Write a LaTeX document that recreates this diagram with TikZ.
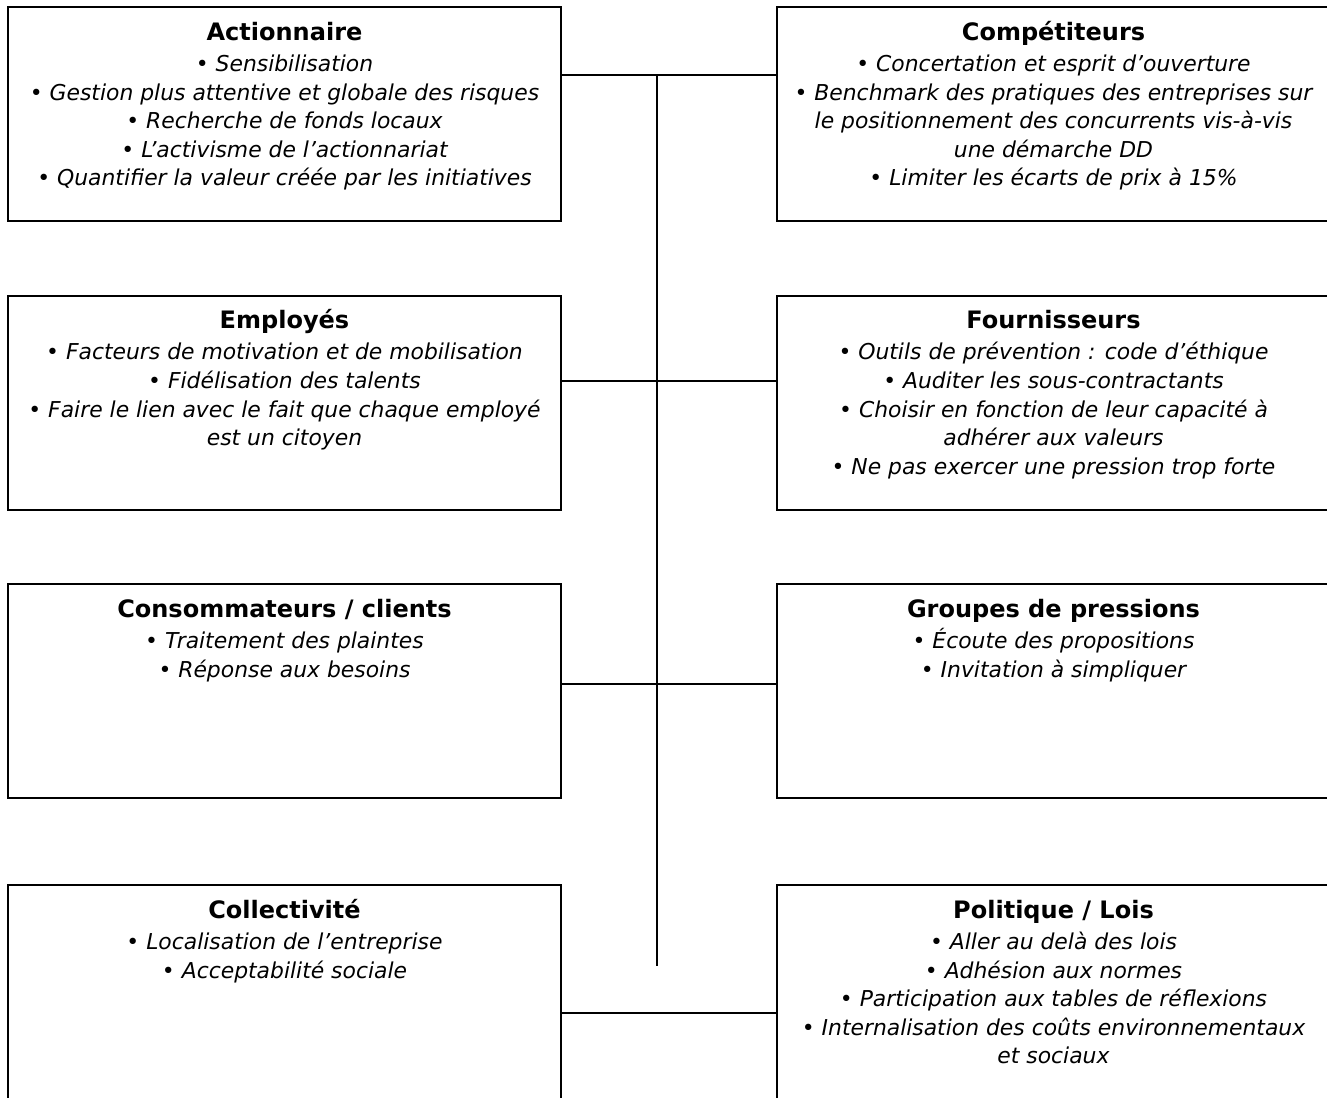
\documentclass[tikz,border=0pt]{standalone}
\usepackage{fontspec}
\setmainfont{DejaVu Sans}
\usetikzlibrary{positioning}
\newcommand{\titlef}{\fontsize{18}{21.4}\selectfont\bfseries\upshape\rule{0pt}{15pt}}
\tikzset{
  stakebox/.style={draw, line width=1.5pt, minimum width=414.75pt, minimum height=160.5pt, inner sep=0pt},
  staketext/.style={inner sep=0pt, align=center, font=\fontsize{16.4}{21.4}\selectfont\itshape},
  link/.style={line width=1.2pt}
}
\begin{document}
\begin{tikzpicture}[x=0.75pt,y=-0.75pt]
    \clip (0,0) rectangle (1327,1097);
    \node[stakebox] (act) at (284.5,114) {};
    \node[stakebox] (emp) at (284.5,402.5) {};
    \node[stakebox] (cons) at (284.5,691) {};
    \node[stakebox] (coll) at (284.5,992) {};
    \node[stakebox] (comp) at (1053.5,114) {};
    \node[stakebox] (four) at (1053.5,402.5) {};
    \node[stakebox] (grp) at (1053.5,691) {};
    \node[stakebox] (pol) at (1053.5,992) {};
    \node[staketext, below=10.5pt of act.north] (acttxt) {{\titlef Actionnaire}\\[2pt]
        • Sensibilisation\\
        • Gestion plus attentive et globale des risques\\
        • Recherche de fonds locaux\\
        • L’activisme de l’actionnariat\\
        • Quantifier la valeur créée par les initiatives};
    \node[staketext, below=10.5pt of comp.north] (comptxt) {{\titlef Compétiteurs}\\[2pt]
        • Concertation et esprit d’ouverture\\
        • Benchmark des pratiques des entreprises sur\\
        le positionnement des concurrents vis-à-vis\\
        une démarche DD\\
        • Limiter les écarts de prix à 15\%};
    \node[staketext, below=10.5pt of emp.north] (emptxt) {{\titlef Employés}\\[2pt]
        • Facteurs de motivation et de mobilisation\\
        • Fidélisation des talents\\
        • Faire le lien avec le fait que chaque employé\\
        est un citoyen};
    \node[staketext, below=10.5pt of four.north] (fourtxt) {{\titlef Fournisseurs}\\[2pt]
        • Outils de prévention : code d’éthique\\
        • Auditer les sous-contractants\\
        • Choisir en fonction de leur capacité à\\
        adhérer aux valeurs\\
        • Ne pas exercer une pression trop forte};
    \node[staketext, below=10.5pt of cons.north] (constxt) {{\titlef Consommateurs / clients}\\[2pt]
        • Traitement des plaintes\\
        • Réponse aux besoins};
    \node[staketext, below=10.5pt of grp.north] (grptxt) {{\titlef Groupes de pressions}\\[2pt]
        • Écoute des propositions\\
        • Invitation à simpliquer};
    \node[staketext, below=10.5pt of coll.north] (colltxt) {{\titlef Collectivité}\\[2pt]
        • Localisation de l’entreprise\\
        • Acceptabilité sociale};
    \node[staketext, below=10.5pt of pol.north] (poltxt) {{\titlef Politique / Lois}\\[2pt]
        • Aller au delà des lois\\
        • Adhésion aux normes\\
        • Participation aux tables de réflexions\\
        • Internalisation des coûts environnementaux\\
        et sociaux};
    \coordinate (j1) at (657,75);
    \coordinate (j2) at (657,381);
    \coordinate (j3) at (657,684);
    \coordinate (j4) at (657,1013);
    \coordinate (jend) at (657,966);
    \draw[link] (act.east |- j1) -- (comp.west |- j1);
    \draw[link] (emp.east |- j2) -- (four.west |- j2);
    \draw[link] (cons.east |- j3) -- (grp.west |- j3);
    \draw[link] (coll.east |- j4) -- (pol.west |- j4);
    \draw[link] (j1) -- (jend);
\end{tikzpicture}
\end{document}
